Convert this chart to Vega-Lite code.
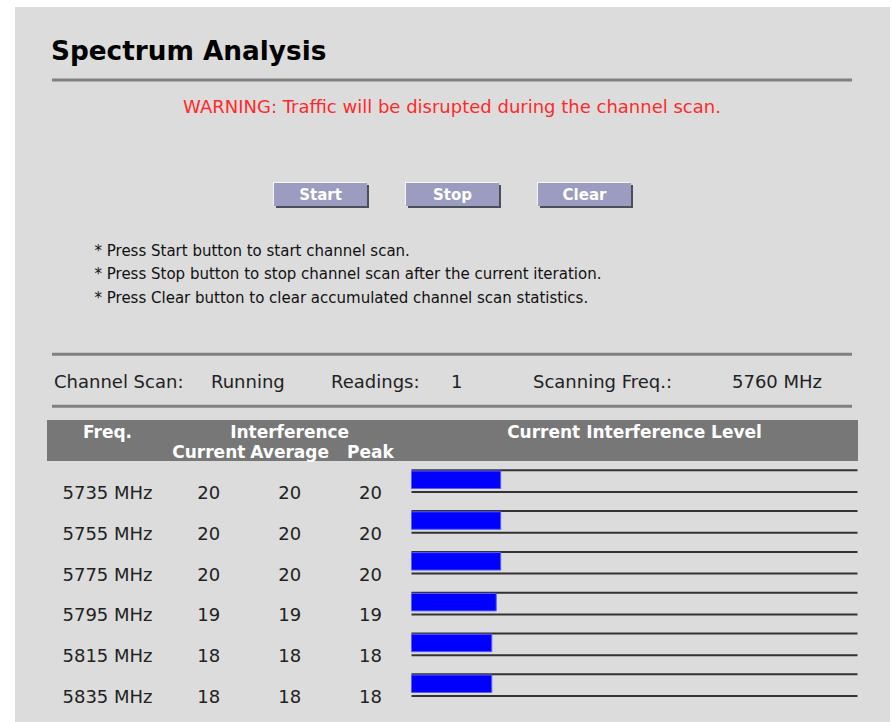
{
  "$schema": "https://vega.github.io/schema/vega-lite/v6.json",
  "width": 875,
  "height": 715,
  "autosize": {"type": "none"},
  "padding": {"left": 15, "top": 7, "right": 2, "bottom": 0},
  "background": "#ffffff",
  "view": {"fill": "#dcdcdc", "stroke": null},
  "config": {"text": {"font": "DejaVu Sans"}},
  "datasets": {
    "rows": [
      {"freq": "5735 MHz", "current": 20, "average": 20, "peak": 20},
      {"freq": "5755 MHz", "current": 20, "average": 20, "peak": 20},
      {"freq": "5775 MHz", "current": 20, "average": 20, "peak": 20},
      {"freq": "5795 MHz", "current": 19, "average": 19, "peak": 19},
      {"freq": "5815 MHz", "current": 18, "average": 18, "peak": 18},
      {"freq": "5835 MHz", "current": 18, "average": 18, "peak": 18}
    ],
    "buttons": [{"button": "Start"}, {"button": "Stop"}, {"button": "Clear"}]
  },
  "resolve": {"scale": {"x": "independent", "y": "independent"}},
  "layer": [
    {
      "data": {"values": [{"text": "Spectrum Analysis"}]},
      "mark": {"type": "text", "align": "left", "baseline": "alphabetic", "font": "DejaVu Sans", "fontSize": 26.3, "fontWeight": "bold", "color": "#000000"},
      "encoding": {
        "x": {"datum": 0, "type": "quantitative", "scale": {"domain": [0, 1], "range": [36, 837]}, "axis": null},
        "y": {"datum": 0, "type": "quantitative", "scale": {"domain": [0, 1], "range": [53.3, 106.3]}, "axis": null},
        "text": {"field": "text"}
      }
    },
    {
      "data": {"values": [{"divider": 0}, {"divider": 1}, {"divider": 2}]},
      "mark": {"type": "rule", "color": "#808080", "strokeWidth": 3},
      "encoding": {
        "x": {"datum": 0, "type": "quantitative", "scale": {"domain": [0, 1], "range": [37, 837]}, "axis": null},
        "x2": {"datum": 1},
        "y": {"field": "divider", "type": "quantitative", "scale": {"domain": [0, 1, 2], "range": [73, 347.3, 399.2]}, "axis": null}
      }
    },
    {
      "data": {"values": [{"text": "WARNING: Traffic will be disrupted during the channel scan."}]},
      "mark": {"type": "text", "align": "center", "baseline": "alphabetic", "font": "DejaVu Sans", "fontSize": 18, "color": "#ff2a2a"},
      "encoding": {
        "x": {"datum": 0.5, "type": "quantitative", "scale": {"domain": [0, 1], "range": [37, 837]}, "axis": null},
        "y": {"datum": 1, "type": "quantitative", "scale": {"domain": [0, 1], "range": [53.3, 106.3]}, "axis": null},
        "text": {"field": "text"}
      }
    },
    {
      "data": {"name": "buttons"},
      "mark": {"type": "rect", "color": "#f4f6fa", "xOffset": -1, "yOffset": -1, "y2Offset": -1},
      "encoding": {
        "x": {"field": "button", "type": "nominal", "scale": {"type": "band", "domain": ["Start", "Stop", "Clear"], "range": [259, 616], "paddingInner": 0.2955, "paddingOuter": 0}, "axis": null},
        "y": {"datum": 0, "type": "quantitative", "scale": {"domain": [0, 1], "range": [176, 199]}, "axis": null},
        "y2": {"datum": 1}
      }
    },
    {
      "data": {"name": "buttons"},
      "mark": {"type": "rect", "color": "#48505c", "xOffset": 2, "yOffset": 2, "y2Offset": 2},
      "encoding": {
        "x": {"field": "button", "type": "nominal", "scale": {"type": "band", "domain": ["Start", "Stop", "Clear"], "range": [259, 616], "paddingInner": 0.2955, "paddingOuter": 0}, "axis": null},
        "y": {"datum": 0, "type": "quantitative", "scale": {"domain": [0, 1], "range": [176, 199]}, "axis": null},
        "y2": {"datum": 1}
      }
    },
    {
      "data": {"name": "buttons"},
      "mark": {"type": "rect", "color": "#9c9cc0"},
      "encoding": {
        "x": {"field": "button", "type": "nominal", "scale": {"type": "band", "domain": ["Start", "Stop", "Clear"], "range": [259, 616], "paddingInner": 0.2955, "paddingOuter": 0}, "axis": null},
        "y": {"datum": 0, "type": "quantitative", "scale": {"domain": [0, 1], "range": [176, 199]}, "axis": null},
        "y2": {"datum": 1}
      }
    },
    {
      "data": {"name": "buttons"},
      "mark": {"type": "text", "align": "center", "baseline": "middle", "font": "DejaVu Sans", "fontSize": 15, "fontWeight": "bold", "color": "#ffffff"},
      "encoding": {
        "x": {"field": "button", "type": "nominal", "scale": {"type": "band", "domain": ["Start", "Stop", "Clear"], "range": [259, 616], "paddingInner": 0.2955, "paddingOuter": 0}, "axis": null},
        "y": {"datum": 0.5, "type": "quantitative", "scale": {"domain": [0, 1], "range": [176, 199]}, "axis": null},
        "text": {"field": "button"}
      }
    },
    {
      "data": {"values": [
        {"note": 1, "text": "* Press Start button to start channel scan."},
        {"note": 2, "text": "* Press Stop button to stop channel scan after the current iteration."},
        {"note": 3, "text": "* Press Clear button to clear accumulated channel scan statistics."}
      ]},
      "mark": {"type": "text", "align": "left", "baseline": "alphabetic", "font": "DejaVu Sans", "fontSize": 15, "color": "#111111"},
      "encoding": {
        "x": {"datum": 0, "type": "quantitative", "scale": {"domain": [0, 1], "range": [79.5, 837]}, "axis": null},
        "y": {"field": "note", "type": "quantitative", "scale": {"domain": [1, 3], "range": [249, 295.7]}, "axis": null},
        "text": {"field": "text"}
      }
    },
    {
      "data": {"values": [
        {"slot": 0, "text": "Channel Scan:"},
        {"slot": 1, "text": "Running"},
        {"slot": 2, "text": "Readings:"},
        {"slot": 3, "text": "1"},
        {"slot": 4, "text": "Scanning Freq.:"},
        {"slot": 5, "text": "5760 MHz"}
      ]},
      "mark": {"type": "text", "align": "left", "baseline": "alphabetic", "font": "DejaVu Sans", "fontSize": 18, "color": "#222222"},
      "encoding": {
        "x": {"field": "slot", "type": "quantitative", "scale": {"domain": [0, 1, 2, 3, 4, 5], "range": [39, 196, 316, 436, 518, 717]}, "axis": null},
        "y": {"datum": 0, "type": "quantitative", "scale": {"domain": [0, 1], "range": [380.7, 400]}, "axis": null},
        "text": {"field": "text"}
      }
    },
    {
      "data": {"values": [{"part": "header"}]},
      "mark": {"type": "rect", "color": "#777777"},
      "encoding": {
        "x": {"datum": 0, "type": "quantitative", "scale": {"domain": [0, 1], "range": [32, 843]}, "axis": null},
        "x2": {"datum": 1},
        "y": {"datum": 0, "type": "quantitative", "scale": {"domain": [0, 1], "range": [413, 454]}, "axis": null},
        "y2": {"datum": 1}
      }
    },
    {
      "data": {"values": [{"text": "Freq."}]},
      "mark": {"type": "text", "align": "center", "baseline": "alphabetic", "font": "DejaVu Sans", "fontSize": 17, "fontWeight": "bold", "color": "#ffffff"},
      "encoding": {
        "x": {"datum": 0, "type": "quantitative", "scale": {"domain": [0, 1], "range": [92.5, 100]}, "axis": null},
        "y": {"datum": 1, "type": "quantitative", "scale": {"domain": [1, 2], "range": [430.5, 450.5]}, "axis": null},
        "text": {"field": "text"}
      }
    },
    {
      "data": {"values": [
        {"text": "Interference", "column": "average", "line": 1},
        {"text": "Current", "column": "current", "line": 2},
        {"text": "Average", "column": "average", "line": 2},
        {"text": "Peak", "column": "peak", "line": 2}
      ]},
      "mark": {"type": "text", "align": "center", "baseline": "alphabetic", "font": "DejaVu Sans", "fontSize": 17, "fontWeight": "bold", "color": "#ffffff"},
      "encoding": {
        "x": {"field": "column", "type": "nominal", "scale": {"type": "point", "domain": ["current", "average", "peak"], "range": [193.8, 355.5], "padding": 0}, "axis": null},
        "y": {"field": "line", "type": "quantitative", "scale": {"domain": [1, 2], "range": [430.5, 450.5]}, "axis": null},
        "text": {"field": "text"}
      }
    },
    {
      "data": {"values": [{"text": "Current Interference Level"}]},
      "mark": {"type": "text", "align": "center", "baseline": "alphabetic", "font": "DejaVu Sans", "fontSize": 17, "fontWeight": "bold", "color": "#ffffff"},
      "encoding": {
        "x": {"datum": 50, "type": "quantitative", "scale": {"domain": [0, 100], "range": [396.5, 842.5]}, "axis": null},
        "y": {"datum": 1, "type": "quantitative", "scale": {"domain": [1, 2], "range": [430.5, 450.5]}, "axis": null},
        "text": {"field": "text"}
      }
    },
    {
      "data": {"name": "rows"},
      "mark": {"type": "rule", "color": "#333333", "strokeWidth": 2},
      "encoding": {
        "x": {"datum": 0, "type": "quantitative", "scale": {"domain": [0, 100], "range": [396.5, 842.5]}, "axis": null},
        "x2": {"datum": 100},
        "y": {"field": "freq", "type": "ordinal", "scale": {"type": "point", "domain": ["5735 MHz", "5755 MHz", "5775 MHz", "5795 MHz", "5815 MHz", "5835 MHz"], "range": [463.3, 667.3], "padding": 0}, "axis": null}
      }
    },
    {
      "data": {"name": "rows"},
      "mark": {"type": "rule", "color": "#333333", "strokeWidth": 2},
      "encoding": {
        "x": {"datum": 0, "type": "quantitative", "scale": {"domain": [0, 100], "range": [396.5, 842.5]}, "axis": null},
        "x2": {"datum": 100},
        "y": {"field": "freq", "type": "ordinal", "scale": {"type": "point", "domain": ["5735 MHz", "5755 MHz", "5775 MHz", "5795 MHz", "5815 MHz", "5835 MHz"], "range": [485, 689], "padding": 0}, "axis": null}
      }
    },
    {
      "data": {"name": "rows"},
      "mark": {"type": "bar", "color": "#0000ff", "stroke": "#5c5cff", "strokeWidth": 1},
      "encoding": {
        "x": {"field": "current", "type": "quantitative", "scale": {"domain": [0, 100], "range": [396.5, 842.5]}, "axis": null},
        "y": {"field": "freq", "type": "ordinal", "scale": {"type": "band", "domain": ["5735 MHz", "5755 MHz", "5775 MHz", "5795 MHz", "5815 MHz", "5835 MHz"], "range": [464, 685.5], "paddingInner": 0.5711, "paddingOuter": 0}, "axis": null}
      }
    },
    {
      "data": {"name": "rows"},
      "mark": {"type": "text", "align": "center", "baseline": "alphabetic", "font": "DejaVu Sans", "fontSize": 18, "color": "#222222"},
      "encoding": {
        "x": {"datum": 0, "type": "quantitative", "scale": {"domain": [0, 1], "range": [92.5, 100]}, "axis": null},
        "y": {"field": "freq", "type": "ordinal", "scale": {"type": "point", "domain": ["5735 MHz", "5755 MHz", "5775 MHz", "5795 MHz", "5815 MHz", "5835 MHz"], "range": [492, 696], "padding": 0}, "axis": null},
        "text": {"field": "freq"}
      }
    },
    {
      "data": {"name": "rows"},
      "transform": [{"fold": ["current", "average", "peak"], "as": ["column", "reading"]}],
      "mark": {"type": "text", "align": "center", "baseline": "alphabetic", "font": "DejaVu Sans", "fontSize": 18, "color": "#222222"},
      "encoding": {
        "x": {"field": "column", "type": "nominal", "scale": {"type": "point", "domain": ["current", "average", "peak"], "range": [193.8, 355.5], "padding": 0}, "axis": null},
        "y": {"field": "freq", "type": "ordinal", "scale": {"type": "point", "domain": ["5735 MHz", "5755 MHz", "5775 MHz", "5795 MHz", "5815 MHz", "5835 MHz"], "range": [492, 696], "padding": 0}, "axis": null},
        "text": {"field": "reading", "type": "nominal"}
      }
    }
  ]
}
